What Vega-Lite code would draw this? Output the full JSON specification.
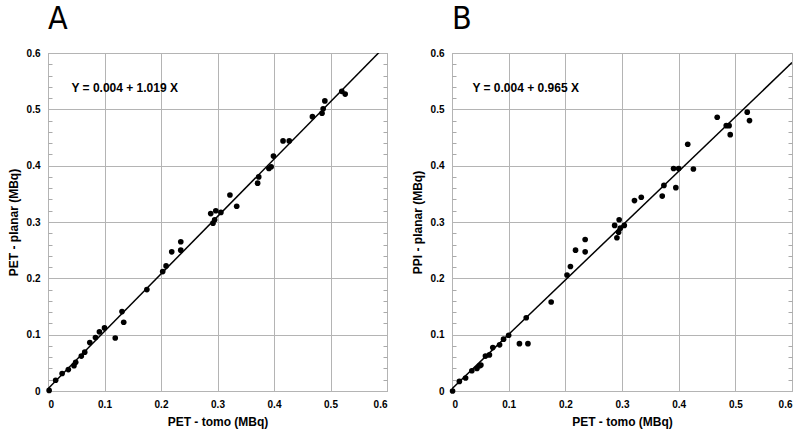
{
  "$schema": "https://vega.github.io/schema/vega-lite/v6.json",
  "padding": {"left": 6, "top": 2, "right": 8, "bottom": 2},
  "config": {
    "font": "Liberation Sans",
    "view": {"stroke": "#999999", "strokeWidth": 1},
    "concat": {"spacing": 22}
  },
  "datasets": {
    "ptsA": [
      {"x": 0.002, "y": 0.001}, {"x": 0.0135, "y": 0.019}, {"x": 0.025, "y": 0.031}, {"x": 0.036, "y": 0.038},
      {"x": 0.046, "y": 0.045}, {"x": 0.049, "y": 0.051}, {"x": 0.059, "y": 0.062}, {"x": 0.065, "y": 0.069},
      {"x": 0.074, "y": 0.086}, {"x": 0.084, "y": 0.095}, {"x": 0.091, "y": 0.105}, {"x": 0.1, "y": 0.112},
      {"x": 0.119, "y": 0.094}, {"x": 0.131, "y": 0.141}, {"x": 0.134, "y": 0.122}, {"x": 0.175, "y": 0.18},
      {"x": 0.203, "y": 0.212}, {"x": 0.209, "y": 0.222}, {"x": 0.219, "y": 0.247}, {"x": 0.235, "y": 0.25},
      {"x": 0.235, "y": 0.265}, {"x": 0.288, "y": 0.315}, {"x": 0.292, "y": 0.298}, {"x": 0.295, "y": 0.304},
      {"x": 0.297, "y": 0.32}, {"x": 0.306, "y": 0.317}, {"x": 0.322, "y": 0.348}, {"x": 0.334, "y": 0.328},
      {"x": 0.371, "y": 0.369}, {"x": 0.373, "y": 0.38}, {"x": 0.391, "y": 0.395}, {"x": 0.395, "y": 0.398},
      {"x": 0.399, "y": 0.417}, {"x": 0.416, "y": 0.444}, {"x": 0.427, "y": 0.444}, {"x": 0.468, "y": 0.487},
      {"x": 0.485, "y": 0.493}, {"x": 0.487, "y": 0.501}, {"x": 0.49, "y": 0.515}, {"x": 0.52, "y": 0.532},
      {"x": 0.526, "y": 0.527}
    ],
    "ptsB": [
      {"x": 0.001, "y": 0.0}, {"x": 0.013, "y": 0.017}, {"x": 0.024, "y": 0.023}, {"x": 0.035, "y": 0.036},
      {"x": 0.044, "y": 0.04}, {"x": 0.049, "y": 0.045}, {"x": 0.051, "y": 0.046}, {"x": 0.059, "y": 0.062},
      {"x": 0.066, "y": 0.064}, {"x": 0.072, "y": 0.077}, {"x": 0.084, "y": 0.082}, {"x": 0.091, "y": 0.092},
      {"x": 0.1, "y": 0.099}, {"x": 0.119, "y": 0.084}, {"x": 0.134, "y": 0.084}, {"x": 0.131, "y": 0.13},
      {"x": 0.175, "y": 0.158}, {"x": 0.203, "y": 0.206}, {"x": 0.209, "y": 0.221}, {"x": 0.218, "y": 0.25},
      {"x": 0.235, "y": 0.247}, {"x": 0.235, "y": 0.269}, {"x": 0.287, "y": 0.294}, {"x": 0.291, "y": 0.272},
      {"x": 0.294, "y": 0.282}, {"x": 0.295, "y": 0.304}, {"x": 0.297, "y": 0.289}, {"x": 0.304, "y": 0.294},
      {"x": 0.322, "y": 0.338}, {"x": 0.334, "y": 0.344}, {"x": 0.371, "y": 0.346}, {"x": 0.374, "y": 0.365},
      {"x": 0.391, "y": 0.395}, {"x": 0.395, "y": 0.361}, {"x": 0.4, "y": 0.395}, {"x": 0.416, "y": 0.438},
      {"x": 0.426, "y": 0.394}, {"x": 0.468, "y": 0.486}, {"x": 0.484, "y": 0.471}, {"x": 0.489, "y": 0.471},
      {"x": 0.491, "y": 0.455}, {"x": 0.521, "y": 0.495}, {"x": 0.525, "y": 0.48}
    ],
    "lineA": [{"x": 0, "y": 0.004}, {"x": 0.6, "y": 0.6154}],
    "lineB": [{"x": 0, "y": 0.004}, {"x": 0.6, "y": 0.583}],
    "eqA": [{"x": 0.0415, "y": 0.537, "label": "Y = 0.004 + 1.019 X"}],
    "eqB": [{"x": 0.036, "y": 0.537, "label": "Y = 0.004 + 0.965 X"}]
  },
  "hconcat": [
    {
      "width": 339,
      "height": 338,
      "title": {"text": "A", "anchor": "start", "fontSize": 32, "fontWeight": "normal", "font": "Liberation Sans Narrow, DejaVu Sans Condensed, Liberation Sans", "color": "#000000", "offset": 12, "dx": 41},
      "resolve": {"axis": {"x": "independent", "y": "independent"}},
      "layer": [
        {
          "data": {"name": "ptsA"},
          "mark": {"type": "point", "filled": true, "color": "#000000", "size": 32, "opacity": 1},
          "encoding": {
            "x": {"field": "x", "type": "quantitative", "scale": {"domain": [0, 0.6], "nice": false},
              "axis": {"values": [0, 0.1, 0.2, 0.3, 0.4, 0.5, 0.6], "labelExpr": "datum.value == 0 ? '0' : format(datum.value, '.1f')", "grid": true, "gridColor": "#b4b4b4", "ticks": false, "domain": false, "labelFontSize": 10, "labelFontWeight": "bold", "labelColor": "#000000", "labelPadding": 8, "title": "PET - tomo (MBq)", "titleFontSize": 12, "titleFontWeight": "bold", "titleColor": "#000000", "titlePadding": 7}},
            "y": {"field": "y", "type": "quantitative", "scale": {"domain": [0, 0.6], "nice": false},
              "axis": {"values": [0, 0.1, 0.2, 0.3, 0.4, 0.5, 0.6], "labelExpr": "datum.value == 0 ? '0' : format(datum.value, '.1f')", "grid": true, "gridColor": "#b4b4b4", "ticks": false, "domain": false, "labelFontSize": 10, "labelFontWeight": "bold", "labelColor": "#000000", "labelPadding": 8, "title": "PET - planar (MBq)", "titleFontSize": 12, "titleFontWeight": "bold", "titleColor": "#000000", "titlePadding": 6}}
          }
        },
        {
          "data": {"name": "lineA"},
          "mark": {"type": "line", "color": "#000000", "strokeWidth": 1.5, "clip": true},
          "encoding": {
            "x": {"field": "x", "type": "quantitative", "axis": null},
            "y": {"field": "y", "type": "quantitative",
              "axis": {"orient": "right", "values": [0.02, 0.04, 0.06, 0.08, 0.12, 0.14, 0.16, 0.18, 0.22, 0.24, 0.26, 0.28, 0.32, 0.34, 0.36, 0.38, 0.42, 0.44, 0.46, 0.48, 0.52, 0.54, 0.56, 0.58], "labels": false, "grid": false, "domain": false, "ticks": true, "tickSize": -4, "tickColor": "#aaaaaa", "title": null}}
          }
        },
        {
          "data": {"name": "eqA"},
          "mark": {"type": "text", "align": "left", "baseline": "middle", "fontSize": 12, "fontWeight": "bold", "color": "#000000"},
          "encoding": {
            "x": {"field": "x", "type": "quantitative", "axis": null},
            "y": {"field": "y", "type": "quantitative",
              "axis": {"orient": "left", "values": [0.02, 0.04, 0.06, 0.08, 0.12, 0.14, 0.16, 0.18, 0.22, 0.24, 0.26, 0.28, 0.32, 0.34, 0.36, 0.38, 0.42, 0.44, 0.46, 0.48, 0.52, 0.54, 0.56, 0.58], "labels": false, "grid": false, "domain": false, "ticks": true, "tickSize": -4, "tickColor": "#aaaaaa", "title": null}},
            "text": {"field": "label"}
          }
        }
      ]
    },
    {
      "width": 340,
      "height": 338,
      "title": {"text": "B", "anchor": "start", "fontSize": 32, "fontWeight": "normal", "font": "Liberation Sans Narrow, DejaVu Sans Condensed, Liberation Sans", "color": "#000000", "offset": 12, "dx": 41},
      "resolve": {"axis": {"x": "independent", "y": "independent"}},
      "layer": [
        {
          "data": {"name": "ptsB"},
          "mark": {"type": "point", "filled": true, "color": "#000000", "size": 32, "opacity": 1},
          "encoding": {
            "x": {"field": "x", "type": "quantitative", "scale": {"domain": [0, 0.6], "nice": false},
              "axis": {"values": [0, 0.1, 0.2, 0.3, 0.4, 0.5, 0.6], "labelExpr": "datum.value == 0 ? '0' : format(datum.value, '.1f')", "grid": true, "gridColor": "#b4b4b4", "ticks": false, "domain": false, "labelFontSize": 10, "labelFontWeight": "bold", "labelColor": "#000000", "labelPadding": 8, "title": "PET - tomo (MBq)", "titleFontSize": 12, "titleFontWeight": "bold", "titleColor": "#000000", "titlePadding": 7}},
            "y": {"field": "y", "type": "quantitative", "scale": {"domain": [0, 0.6], "nice": false},
              "axis": {"values": [0, 0.1, 0.2, 0.3, 0.4, 0.5, 0.6], "labelExpr": "datum.value == 0 ? '0' : format(datum.value, '.1f')", "grid": true, "gridColor": "#b4b4b4", "ticks": false, "domain": false, "labelFontSize": 10, "labelFontWeight": "bold", "labelColor": "#000000", "labelPadding": 8, "title": "PPI - planar (MBq)", "titleFontSize": 12, "titleFontWeight": "bold", "titleColor": "#000000", "titlePadding": 6}}
          }
        },
        {
          "data": {"name": "lineB"},
          "mark": {"type": "line", "color": "#000000", "strokeWidth": 1.5, "clip": true},
          "encoding": {
            "x": {"field": "x", "type": "quantitative", "axis": null},
            "y": {"field": "y", "type": "quantitative",
              "axis": {"orient": "right", "values": [0.02, 0.04, 0.06, 0.08, 0.12, 0.14, 0.16, 0.18, 0.22, 0.24, 0.26, 0.28, 0.32, 0.34, 0.36, 0.38, 0.42, 0.44, 0.46, 0.48, 0.52, 0.54, 0.56, 0.58], "labels": false, "grid": false, "domain": false, "ticks": true, "tickSize": -4, "tickColor": "#aaaaaa", "title": null}}
          }
        },
        {
          "data": {"name": "eqB"},
          "mark": {"type": "text", "align": "left", "baseline": "middle", "fontSize": 12, "fontWeight": "bold", "color": "#000000"},
          "encoding": {
            "x": {"field": "x", "type": "quantitative", "axis": null},
            "y": {"field": "y", "type": "quantitative",
              "axis": {"orient": "left", "values": [0.02, 0.04, 0.06, 0.08, 0.12, 0.14, 0.16, 0.18, 0.22, 0.24, 0.26, 0.28, 0.32, 0.34, 0.36, 0.38, 0.42, 0.44, 0.46, 0.48, 0.52, 0.54, 0.56, 0.58], "labels": false, "grid": false, "domain": false, "ticks": true, "tickSize": -4, "tickColor": "#aaaaaa", "title": null}},
            "text": {"field": "label"}
          }
        }
      ]
    }
  ]
}
